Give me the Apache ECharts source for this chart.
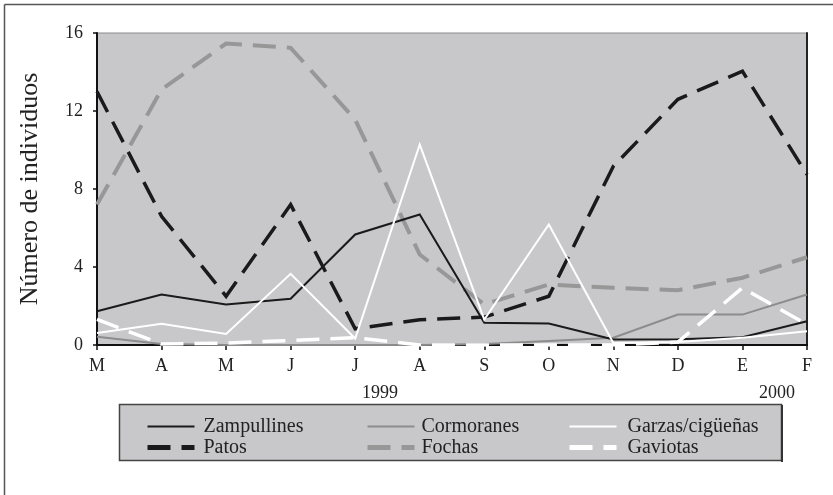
<!DOCTYPE html>
<html>
<head>
<meta charset="utf-8">
<script src="https://cdn.jsdelivr.net/npm/echarts@6/dist/echarts.min.js"></script>
<style>html,body{margin:0;padding:0;background:#fff}#c{width:833px;height:495px}</style>
</head>
<body>
<div id="c"></div>
<script>
const months = ['M','A','M','J','J','A','S','O','N','D','E','F'];
const yTicks = [0, 4, 8, 12, 16];
const years = ['1999', '2000'];
const zampullines = [1.73, 2.59, 2.08, 2.37, 5.67, 6.69, 1.14, 1.1, 0.28, 0.3, 0.4, 1.22];
const cormoranes = [0.42, 0.05, 0.0, 0.0, 0.0, 0.0, 0.05, 0.2, 0.37, 1.56, 1.56, 2.59];
const garzas = [0.62, 1.09, 0.57, 3.65, 0.33, 10.28, 1.3, 6.18, 0.1, 0.15, 0.37, 0.71];
const patos = [13.0, 6.6, 2.5, 7.2, 0.83, 1.3, 1.43, 2.5, 9.17, 12.6, 14.04, 8.74];
const fochas = [7.2, 13.1, 15.46, 15.24, 11.56, 4.64, 2.08, 3.1, 2.93, 2.81, 3.45, 4.5];
const gaviotas = [1.31, 0.05, 0.1, 0.23, 0.37, 0.0, 0.0, 0.0, 0.0, 0.15, 2.93, 1.05];

const FONT = '"Liberation Serif", "DejaVu Serif", serif';
const chart = echarts.init(document.getElementById('c'), null, {renderer: 'canvas'});

function ser(name, data, color, width, dash) {
  return {
    name: name, type: 'line', data: data, symbol: 'none', showSymbol: false,
    animation: false,
    lineStyle: {color: color, width: width, type: dash ? [23, 11] : 'solid', cap: 'butt', join: 'miter'},
    itemStyle: {color: color}
  };
}

function legendCol(left, names, gap) {
  return {
    orient: 'vertical', left: left, top: 411, itemWidth: 47, itemHeight: 14, itemGap: 0,
    data: [
      {name: names[0], lineStyle: {width: 2, type: 'solid'}},
      {name: names[1], lineStyle: {width: 5, type: [23, 11]}}
    ],
    selectedMode: false,
    itemStyle: {opacity: 0},
    textStyle: {fontFamily: FONT, fontSize: 20, color: '#222', lineHeight: 21, padding: [0, 0, 0, gap]}
  };
}

chart.setOption({
  backgroundColor: '#fff',
  animation: false,
  textStyle: {fontFamily: FONT},
  grid: {left: 97, right: 26, top: 33, bottom: 150, show: true, backgroundColor: '#c8c8ca', borderColor: '#8a8a8a', borderWidth: 1},
  xAxis: {
    type: 'category', data: months, boundaryGap: false,
    axisLine: {lineStyle: {color: '#111', width: 2}},
    axisTick: {show: true, length: 5, lineStyle: {color: '#111', width: 1.5}, alignWithLabel: true},
    axisLabel: {fontFamily: FONT, fontSize: 18, color: '#222', margin: 12, interval: 0},
    splitLine: {show: false}
  },
  yAxis: [{
    type: 'value', min: 0, max: 16, interval: 4,
    name: 'Número de individuos', nameLocation: 'middle', nameGap: 54, nameRotate: 90,
    nameTextStyle: {fontFamily: FONT, fontSize: 26, color: '#222'},
    axisLine: {show: true, lineStyle: {color: '#111', width: 2}},
    axisTick: {show: true, length: 4, lineStyle: {color: '#111', width: 1.5}},
    axisLabel: {fontFamily: FONT, fontSize: 18, color: '#222', margin: 14,
      formatter: function (v) { return yTicks.indexOf(v) >= 0 ? String(v) : ''; }},
    splitLine: {show: false}
  }, {
    type: 'value', min: 0, max: 16, interval: 4, position: 'right',
    axisLine: {show: true, lineStyle: {color: '#222', width: 2}},
    axisTick: {show: false}, axisLabel: {show: false}, splitLine: {show: false}
  }],
  legend: [
    legendCol(140, ['Zampullines', 'Patos'], 4),
    legendCol(360, ['Cormoranes', 'Fochas'], 2),
    legendCol(562, ['Garzas/cigüeñas', 'Gaviotas'], 6)
  ],
  graphic: [
    {type: 'line', z: 0, shape: {x1: 4.5, y1: 4.5, x2: 833, y2: 4.5}, style: {stroke: '#555', lineWidth: 1.5}},
    {type: 'line', z: 0, shape: {x1: 4.5, y1: 4.5, x2: 4.5, y2: 495}, style: {stroke: '#555', lineWidth: 1.5}},
    {type: 'rect', z: 0, shape: {x: 119.5, y: 404.5, width: 662, height: 56}, style: {fill: '#c8c8ca', stroke: '#444', lineWidth: 1.5}},
    {type: 'line', z: 0, shape: {x1: 782, y1: 405, x2: 782, y2: 462}, style: {stroke: '#333', lineWidth: 2}},
    {type: 'text', z: 1, left: 362, top: 384, style: {text: years[0], font: '18px ' + FONT, fill: '#222'}},
    {type: 'text', z: 1, left: 759, top: 384, style: {text: years[1], font: '18px ' + FONT, fill: '#222'}}
  ],
  series: [
    ser('Cormoranes', cormoranes, '#8c8c8c', 2, false),
    ser('Fochas', fochas, '#979797', 4, true),
    ser('Zampullines', zampullines, '#1a1a1a', 2, false),
    ser('Patos', patos, '#1a1a1a', 3.5, true),
    ser('Garzas/cigüeñas', garzas, '#ffffff', 2, false),
    ser('Gaviotas', gaviotas, '#ffffff', 3.5, true)
  ]
});
</script>
</body>
</html>
